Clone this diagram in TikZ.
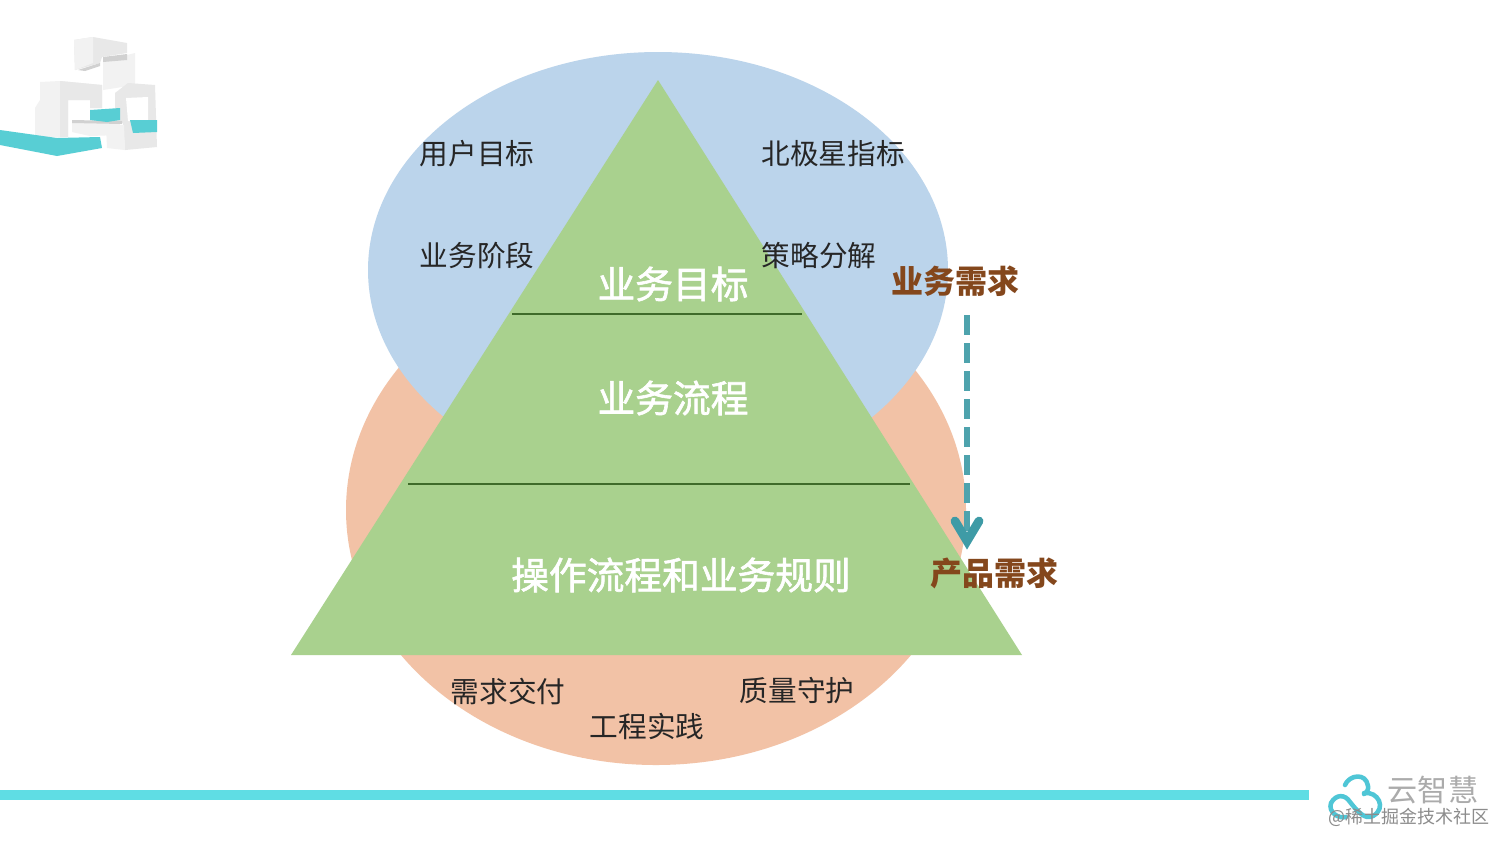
\documentclass[tikz,border=0pt]{standalone}
\usepackage{fontspec}
\setmainfont{Noto Sans CJK SC}
\newfontfamily\layfont[FakeBold=1.6]{Noto Sans CJK SC}
\usetikzlibrary{arrows.meta}
\definecolor{blueell}{HTML}{BBD4EB}
\definecolor{orangeell}{HTML}{F2C2A6}
\definecolor{tri}{HTML}{A9D18E}
\definecolor{divline}{HTML}{3F6B2A}
\definecolor{brownt}{HTML}{84471C}
\definecolor{tealarrow}{HTML}{3E9BA6}
\definecolor{barcol}{HTML}{5FDDE4}
\definecolor{cloudc}{HTML}{4FC6D6}
\tikzset{
  lbl/.style={font=\fontsize{21.5pt}{24pt}\selectfont,text=black!85,inner sep=0pt},
  lay/.style={font=\fontsize{28.3pt}{32pt}\layfont,text=white,inner sep=0pt},
  req/.style={font=\fontsize{24pt}{26pt}\selectfont\bfseries,text=brownt,inner sep=0pt},
  div/.style={draw=divline,line width=1.2pt},
  blockA/.style={fill=black!5,draw=none},
  blockB/.style={fill=black!9,draw=none},
  blockC/.style={fill=black!18,draw=none},
  tealA/.style={fill=barcol!93!black,draw=none},
  clouds/.style={draw=cloudc,line width=3.4pt,line cap=round,line join=round},
}
\begin{document}
\begin{tikzpicture}[x=0.75pt,y=-0.75pt]
\useasboundingbox (0,0) rectangle (1512,851);
\fill[white] (0,0) rectangle (1512,851);
% ellipses
\fill[orangeell] (656,510) ellipse [x radius=310,y radius=255];
\fill[blueell] (658,270) ellipse [x radius=290,y radius=218];
% pyramid
\fill[tri] (658,80) -- (1022,655) -- (291,655) -- cycle;
\coordinate (d1l) at (512,314); \coordinate (d1r) at (802,314);
\coordinate (d2l) at (408,484); \coordinate (d2r) at (910,484);
\draw[div] (d1l) -- (d1r);
\draw[div] (d2l) -- (d2r);
% labels
\node[lbl] (a) at (477,154) {用户目标};
\node[lbl] (b) at (833,154) {北极星指标};
\node[lbl] (c) at (477,256) {业务阶段};
\node[lbl] (d) at (819,256) {策略分解};
\node[lbl] (e) at (508,691) {需求交付};
\node[lbl] (f) at (647,726) {工程实践};
\node[lbl] (g) at (797,691) {质量守护};
\node[lay] (l1) at (673,284) {业务目标};
\node[lay] (l2) at (673,398) {业务流程};
\node[lay] (l3) at (681,575) {操作流程和业务规则};
\node[req] (r1) at (955,281) {业务需求};
\node[req] (r2) at (994,573) {产品需求};
% arrow
\coordinate (as) at (967,315);
\coordinate (ae) at (967,535);
\coordinate (hl) at (955,521);
\coordinate (ht) at (967,541);
\coordinate (hr) at (979,521);
\draw[tealarrow!92!white,line width=5.2pt,dash pattern=on 15pt off 6pt] (as) -- (ae);
\draw[tealarrow,line width=6.6pt,line cap=round,line join=miter] (hl) -- (ht) -- (hr);
% bottom bar
\fill[barcol] (0,790) rectangle (1309,800);
% cube logo
\fill[blockA] (103,60) -- (127,55) -- (135,53) -- (135,85) -- (103,90) -- cycle;
\fill[blockB] (74,40) -- (93,37) -- (127,43) -- (127,53) -- (102,57) -- (100,63) -- (75,70) -- cycle;
\fill[blockA] (74,40) -- (93,37) -- (93,63) -- (75,70) -- cycle;
\fill[blockC] (78,70) -- (100,63) -- (100,66) -- (85,71) -- cycle;
\fill[blockC] (103,57) -- (127,54) -- (127,60) -- (103,62) -- cycle;
\fill[blockB] (115,93) -- (128,83) -- (155,85) -- (157,147) -- (125,150) -- (123,123) -- (115,123) -- cycle;
\fill[white] (126,98) -- (148,97) -- (148,121) -- (128,121) -- cycle;
\fill[blockA] (40,82) -- (60,81) -- (102,85) -- (102,108) -- (90,108) -- (90,100) -- (68,100) -- (68,137) -- (35,137) -- (35,108) -- (40,100) -- cycle;
\fill[blockB] (60,81) -- (102,85) -- (102,108) -- (90,108) -- (90,100) -- (68,100) -- (68,137) -- (60,137) -- cycle;
\fill[blockA] (72,121) -- (120,122) -- (120,135) -- (90,136) -- (72,132) -- cycle;
\fill[blockC] (72,120) -- (122,121) -- (122,124) -- (72,123) -- cycle;
\fill[blockA] (106,125) -- (124,125) -- (125,150) -- (107,148) -- cycle;
\fill[tealA] (90,110) -- (120,108) -- (120,120) -- (107,122) -- (90,120) -- cycle;
\fill[tealA] (130,120) -- (157,120) -- (157,132) -- (133,133) -- cycle;
\fill[tealA] (0,130) -- (57,138) -- (100,137) -- (102,148) -- (57,156) -- (0,145) -- cycle;
% cloud logo
\draw[clouds] (1345,785) .. controls (1349,775) and (1366,772) .. (1368,786)
  .. controls (1368.5,790) and (1367,792) .. (1364,794);
\draw[clouds] (1364,793) .. controls (1378,791) and (1387,808) .. (1373,816)
  .. controls (1365,820) and (1358,812) .. (1350,802)
  .. controls (1345,794) and (1336,794) .. (1331,803)
  .. controls (1328,812) and (1338,819) .. (1346,817);
\node[inner sep=0pt,text=black!33,font=\fontsize{22.6pt}{26pt}\selectfont] (yz) at (1433,790) {云智慧};
\node[inner sep=0pt,text=black!45,font=\fontsize{13.5pt}{16pt}\selectfont] (wm) at (1408.5,817.5) {@稀土掘金技术社区};
\end{tikzpicture}
\end{document}
